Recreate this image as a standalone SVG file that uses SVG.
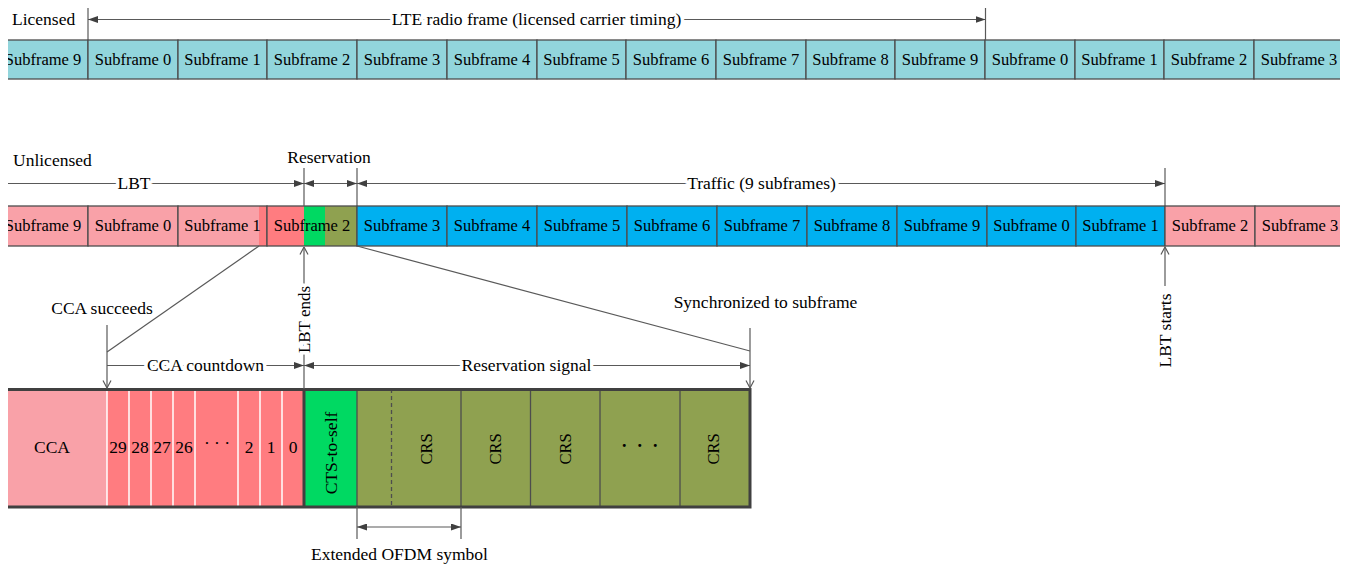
<svg xmlns="http://www.w3.org/2000/svg" width="1348" height="567" viewBox="0 0 1348 567">
<style>
text{font-family:"Liberation Serif","Times New Roman",serif;fill:#000}
.sf{font-size:16.5px;text-anchor:middle}
.lb{font-size:17.5px}
.c{text-anchor:middle}
.halo{stroke:#fff;stroke-width:7px;paint-order:stroke;stroke-linejoin:round}
.cell{stroke:#4d4d4d;stroke-width:1.3}
.teal{fill:#92D5DC}
.pink{fill:#F9A1A8}
.red{fill:#FF7C80}
.green{fill:#00D962}
.olive{fill:#8FA150}
.blue{fill:#00B0F0}
.dim{stroke:#595959;stroke-width:1.2;fill:none}
.sep{stroke:#fff;stroke-width:1.5}
.div{stroke:#4d4d4d;stroke-width:1.3}
.rot{text-anchor:middle;dominant-baseline:central}
</style>
<defs>
<clipPath id="rowclip"><rect x="8" y="0" width="1332" height="567"/></clipPath>
<marker id="ah" viewBox="0 0 10 7" refX="10" refY="3.5" markerWidth="10" markerHeight="7" markerUnits="userSpaceOnUse" orient="auto-start-reverse"><path d="M0,0L10,3.5L0,7z" fill="#404040"/></marker>
<marker id="oa" viewBox="0 0 10 10" refX="9.5" refY="5" markerWidth="10" markerHeight="10" markerUnits="userSpaceOnUse" orient="auto"><path d="M2,1L9.5,5L2,9" fill="none" stroke="#595959" stroke-width="1.2"/></marker>
</defs>

<rect width="1348" height="567" fill="#fff"/>

<text class="lb" x="12" y="24.5">Licensed</text>
<text class="lb" x="13" y="166">Unlicensed</text>

<g id="licensed-row" clip-path="url(#rowclip)">
<g id="L-sf9a"><rect class="cell teal" x="-1.7" y="40" width="89.7" height="39"/><text class="sf" x="43" y="65">Subframe 9</text></g>
<g id="L-sf0a"><rect class="cell teal" x="88" y="40" width="90" height="39"/><text class="sf" x="133" y="65">Subframe 0</text></g>
<g id="L-sf1a"><rect class="cell teal" x="178" y="40" width="89" height="39"/><text class="sf" x="222.5" y="65">Subframe 1</text></g>
<g id="L-sf2a"><rect class="cell teal" x="267" y="40" width="90" height="39"/><text class="sf" x="312" y="65">Subframe 2</text></g>
<g id="L-sf3a"><rect class="cell teal" x="357" y="40" width="90" height="39"/><text class="sf" x="402" y="65">Subframe 3</text></g>
<g id="L-sf4"><rect class="cell teal" x="447" y="40" width="90" height="39"/><text class="sf" x="492" y="65">Subframe 4</text></g>
<g id="L-sf5"><rect class="cell teal" x="537" y="40" width="89" height="39"/><text class="sf" x="581.5" y="65">Subframe 5</text></g>
<g id="L-sf6"><rect class="cell teal" x="626" y="40" width="90" height="39"/><text class="sf" x="671" y="65">Subframe 6</text></g>
<g id="L-sf7"><rect class="cell teal" x="716" y="40" width="90" height="39"/><text class="sf" x="761" y="65">Subframe 7</text></g>
<g id="L-sf8"><rect class="cell teal" x="806" y="40" width="89" height="39"/><text class="sf" x="850.5" y="65">Subframe 8</text></g>
<g id="L-sf9b"><rect class="cell teal" x="895" y="40" width="90" height="39"/><text class="sf" x="940" y="65">Subframe 9</text></g>
<g id="L-sf0b"><rect class="cell teal" x="985" y="40" width="90" height="39"/><text class="sf" x="1030" y="65">Subframe 0</text></g>
<g id="L-sf1b"><rect class="cell teal" x="1075" y="40" width="89" height="39"/><text class="sf" x="1119.5" y="65">Subframe 1</text></g>
<g id="L-sf2b"><rect class="cell teal" x="1164" y="40" width="90" height="39"/><text class="sf" x="1209" y="65">Subframe 2</text></g>
<g id="L-sf3b"><rect class="cell teal" x="1254" y="40" width="90" height="39"/><text class="sf" x="1299" y="65">Subframe 3</text></g>
</g>

<g id="unlicensed-row" clip-path="url(#rowclip)">
<g id="U-sf9a"><rect class="cell pink" x="-1.7" y="206" width="89.7" height="40"/><text class="sf" x="43" y="231">Subframe 9</text></g>
<g id="U-sf0a"><rect class="cell pink" x="88" y="206" width="90" height="40"/><text class="sf" x="133" y="231">Subframe 0</text></g>
<g id="U-sf1a"><rect class="pink" x="178" y="206" width="81" height="40"/><rect class="red" x="259" y="206" width="8" height="40"/><rect class="cell" fill="none" x="178" y="206" width="89" height="40"/><text class="sf" x="222.5" y="231">Subframe 1</text></g>
<g id="U-sf2a"><rect class="red" x="267" y="206" width="37" height="40"/><rect class="green" x="304" y="206" width="21" height="40"/><rect class="olive" x="325" y="206" width="32" height="40"/><rect class="cell" fill="none" x="267" y="206" width="90" height="40"/><text class="sf" x="312" y="231">Subframe 2</text></g>
<g id="U-sf3"><rect class="cell blue" x="357" y="206" width="90" height="40"/><text class="sf" x="402" y="231">Subframe 3</text></g>
<g id="U-sf4"><rect class="cell blue" x="447" y="206" width="90" height="40"/><text class="sf" x="492" y="231">Subframe 4</text></g>
<g id="U-sf5"><rect class="cell blue" x="537" y="206" width="90" height="40"/><text class="sf" x="582" y="231">Subframe 5</text></g>
<g id="U-sf6"><rect class="cell blue" x="627" y="206" width="90" height="40"/><text class="sf" x="672" y="231">Subframe 6</text></g>
<g id="U-sf7"><rect class="cell blue" x="717" y="206" width="90" height="40"/><text class="sf" x="762" y="231">Subframe 7</text></g>
<g id="U-sf8"><rect class="cell blue" x="807" y="206" width="90" height="40"/><text class="sf" x="852" y="231">Subframe 8</text></g>
<g id="U-sf9b"><rect class="cell blue" x="897" y="206" width="90" height="40"/><text class="sf" x="942" y="231">Subframe 9</text></g>
<g id="U-sf0b"><rect class="cell blue" x="987" y="206" width="89" height="40"/><text class="sf" x="1031.5" y="231">Subframe 0</text></g>
<g id="U-sf1b"><rect class="cell blue" x="1076" y="206" width="89" height="40"/><text class="sf" x="1120.5" y="231">Subframe 1</text></g>
<g id="U-sf2b"><rect class="cell pink" x="1165" y="206" width="90" height="40"/><text class="sf" x="1210" y="231">Subframe 2</text></g>
<g id="U-sf3b"><rect class="cell pink" x="1255" y="206" width="90" height="40"/><text class="sf" x="1300" y="231">Subframe 3</text></g>
</g>

<g id="reservation-detail">
<rect class="pink" x="8" y="389" width="99" height="118"/>
<rect class="red" x="107" y="389" width="197" height="118"/>
<rect class="green" x="304" y="389" width="53" height="118"/>
<rect class="olive" x="357" y="389" width="393" height="118"/>
<g>
<line class="sep" x1="107" y1="390" x2="107" y2="506"/>
<line class="sep" x1="129" y1="390" x2="129" y2="506"/>
<line class="sep" x1="151" y1="390" x2="151" y2="506"/>
<line class="sep" x1="173" y1="390" x2="173" y2="506"/>
<line class="sep" x1="195" y1="390" x2="195" y2="506"/>
<line class="sep" x1="238" y1="390" x2="238" y2="506"/>
<line class="sep" x1="260" y1="390" x2="260" y2="506"/>
<line class="sep" x1="282" y1="390" x2="282" y2="506"/>
</g>
<line class="div" x1="357" y1="389" x2="357" y2="507"/>
<line class="div" x1="391.5" y1="389" x2="391.5" y2="507" stroke-dasharray="4,3"/>
<line class="div" x1="461" y1="389" x2="461" y2="507"/>
<line class="div" x1="530.5" y1="389" x2="530.5" y2="507"/>
<line class="div" x1="600" y1="389" x2="600" y2="507"/>
<line class="div" x1="680" y1="389" x2="680" y2="507"/>
<line x1="304" y1="389" x2="304" y2="507" stroke="#404040" stroke-width="3"/>
<path d="M8,389.5H750V507H8" fill="none" stroke="#404040" stroke-width="3"/>
<text class="lb c" x="52" y="453">CCA</text>
<text class="lb c" x="118" y="453">29</text>
<text class="lb c" x="140" y="453">28</text>
<text class="lb c" x="162" y="453">27</text>
<text class="lb c" x="184" y="453">26</text>
<text class="lb c" x="217" y="449">· · ·</text>
<text class="lb c" x="249" y="453">2</text>
<text class="lb c" x="271" y="453">1</text>
<text class="lb c" x="293" y="453">0</text>
<text class="rot" font-size="17.5" transform="translate(331,453) rotate(-90)">CTS-to-self</text>
<text class="rot" font-size="16.5" transform="translate(426,449) rotate(-90)">CRS</text>
<text class="rot" font-size="16.5" transform="translate(495.5,449) rotate(-90)">CRS</text>
<text class="rot" font-size="16.5" transform="translate(565,449) rotate(-90)">CRS</text>
<text class="c" font-size="18" font-weight="bold" letter-spacing="2.5" x="641" y="452">· · ·</text>
<text class="rot" font-size="16.5" transform="translate(713.5,449) rotate(-90)">CRS</text>
</g>

<g id="connectors">
<line class="dim" x1="88" y1="8" x2="88" y2="40"/>
<line class="dim" x1="985.5" y1="8" x2="985.5" y2="40"/>
<line class="dim" x1="88" y1="19.5" x2="985.5" y2="19.5" marker-start="url(#ah)" marker-end="url(#ah)"/>

<line class="dim" x1="304" y1="168" x2="304" y2="206"/>
<line class="dim" x1="357" y1="168" x2="357" y2="206"/>
<line class="dim" x1="1165" y1="168" x2="1165" y2="206"/>
<line class="dim" x1="8" y1="183.5" x2="304" y2="183.5" marker-end="url(#ah)"/>
<line class="dim" x1="304" y1="183.5" x2="357" y2="183.5" marker-start="url(#ah)" marker-end="url(#ah)"/>
<line class="dim" x1="357" y1="183.5" x2="1165" y2="183.5" marker-start="url(#ah)" marker-end="url(#ah)"/>

<line class="dim" x1="259" y1="246" x2="107" y2="352"/>
<line class="dim" x1="107" y1="325" x2="107" y2="388" marker-end="url(#oa)"/>
<line class="dim" x1="357" y1="246" x2="750" y2="351"/>
<line class="dim" x1="750" y1="328" x2="750" y2="388" marker-end="url(#oa)"/>
<line class="dim" x1="107" y1="365.5" x2="304" y2="365.5" marker-end="url(#ah)"/>
<line class="dim" x1="304" y1="365.5" x2="750" y2="365.5" marker-start="url(#ah)" marker-end="url(#ah)"/>
<line class="dim" x1="304" y1="389" x2="304" y2="247" marker-end="url(#oa)"/>
<line class="dim" x1="1165" y1="286" x2="1165" y2="247" marker-end="url(#oa)"/>

<line class="dim" x1="357" y1="507" x2="357" y2="539"/>
<line class="dim" x1="461" y1="507" x2="461" y2="539"/>
<line class="dim" x1="357" y1="527" x2="461" y2="527" marker-start="url(#ah)" marker-end="url(#ah)"/>
</g>

<g id="labels">
<text class="lb c halo" x="536.5" y="25">LTE radio frame (licensed carrier timing)</text>
<text class="lb c" x="329" y="163">Reservation</text>
<text class="lb c halo" x="134" y="189">LBT</text>
<text class="lb c halo" x="761.5" y="189">Traffic (9 subframes)</text>
<text class="lb c" x="102" y="314">CCA succeeds</text>
<text class="lb c" x="765.5" y="308">Synchronized to subframe</text>
<text class="lb c halo" x="205.5" y="371">CCA countdown</text>
<text class="lb c halo" x="526.5" y="371">Reservation signal</text>
<text class="rot halo" font-size="17" transform="translate(304,319.5) rotate(-90)">LBT ends</text>
<text class="rot" font-size="17.5" transform="translate(1165,330.5) rotate(-90)">LBT starts</text>
<text class="lb c" x="399.5" y="560">Extended OFDM symbol</text>
</g>
</svg>
